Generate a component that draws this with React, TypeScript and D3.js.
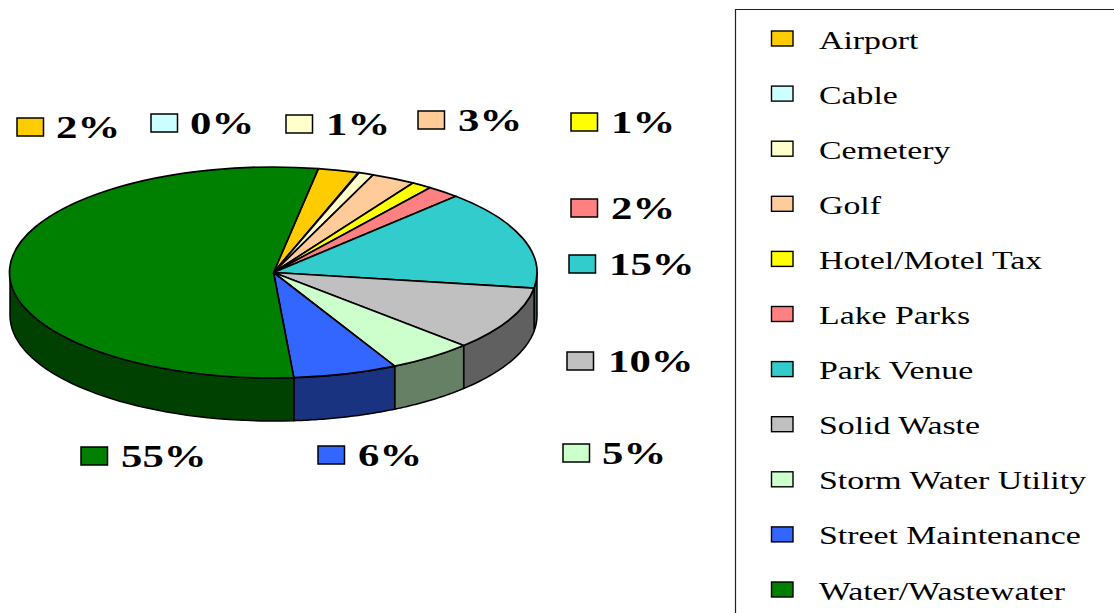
import React from "react";
import * as d3 from "d3";

const categories = ["Airport","Cable","Cemetery","Golf","Hotel/Motel Tax","Lake Parks","Park Venue","Solid Waste","Storm Water Utility","Street Maintenance","Water/Wastewater"];
const values = [2.5,0.05,0.9,2.7,1.25,2.05,15.2,9.8,5.22,6.38,53.95];
const percentLabels = ["2%","0%","1%","3%","1%","2%","15%","10%","5%","6%","55%"];
const colors = ["#ffcc00","#ccffff","#ffffcc","#ffcc99","#ffff00","#ff8080","#33cccc","#c0c0c0","#ccffcc","#3366ff","#008000"];
const sideColors = ["#806600","#668080","#808066","#80664d","#808000","#804040","#196666","#606060","#668066","#1a3380","#004000"];
// label anchor: swatch left, swatch top, text left
const labelX = [17,151,286,418,571,571,569,567,563,318,81];
const labelY = [118,114,115,111,113,199,255,352,444,446,447];
const textX = [56,190,326,458,611,611,609,608,602,358,121];

const W = 1114, H = 613;
const cx = 273.5, cy = 272.5, rx = 263.5, ry = 105.5, depth = 43;
const LEGEND_STEP = 55.1;
const START = 9.8 * Math.PI / 180;

const pie = d3.pie<number>().sort(null).startAngle(START).endAngle(START + 2 * Math.PI);
const arcs = pie(values);
const arcGen = d3.arc<d3.PieArcDatum<number>>().innerRadius(0).outerRadius(1);
const pt = (a: number, dy = 0): [number, number] => [cx + rx * Math.sin(a), cy - ry * Math.cos(a) + dy];

function sidePath(a0: number, a1: number): string | null {
  // only the front half of the rim (90deg..270deg) is visible
  const lo = Math.max(a0, Math.PI / 2), hi = Math.min(a1, 1.5 * Math.PI);
  if (hi <= lo) return null;
  const angles = d3.range(0, 41).map(i => lo + (hi - lo) * i / 40);
  const top = angles.map(a => pt(a));
  const bot = angles.map(a => pt(a, depth)).reverse();
  return d3.line()([...top, ...bot]) + "Z";
}

const serif = "'Liberation Serif','Times New Roman',serif";

function Stretched({ x, y, size, sx, bold, children }: any) {
  return (
    <text transform={`translate(${x},${y}) scale(${sx},1)`} fontFamily={serif} fontSize={size}
      fontWeight={bold ? 700 : 400} fill="#000">{children}</text>
  );
}

export default function App() {
  return (
    <svg width={W} height={H} viewBox={`0 0 ${W} ${H}`}
      style={{ position: "absolute", left: 0, top: 0, background: "#fff", display: "block" }}>
      {arcs.map((d, i) => {
        const p = sidePath(d.startAngle, d.endAngle);
        return p ? <path key={i} d={p} fill={sideColors[i]} stroke="#000" strokeWidth={1.5} strokeLinejoin="round" /> : null;
      })}
      {arcs.map((d, i) => (
        <path key={i} d={arcGen(d) as string} transform={`translate(${cx},${cy}) scale(${rx},${ry})`}
          fill={colors[i]} stroke="#000" strokeWidth={1.7} strokeLinejoin="round" vectorEffect="non-scaling-stroke" />
      ))}
      {categories.map((c, i) => (
        <g key={c}>
          <rect x={labelX[i]} y={labelY[i]} width={26.5} height={18} fill={colors[i]} stroke="#000" strokeWidth={1.5} />
          <Stretched x={textX[i]} y={labelY[i] + 20} size={31} sx={1.38} bold>{percentLabels[i]}</Stretched>
        </g>
      ))}
      <path d={`M${W},9.5H735.5V${H}`} fill="none" stroke="#222" strokeWidth={1.2} />
      {categories.map((c, i) => {
        const y = 31 + i * LEGEND_STEP;
        return (
          <g key={c}>
            <rect x={771.5} y={y} width={21.5} height={15} fill={colors[i]} stroke="#000" strokeWidth={1.4} />
            <Stretched x={819} y={y + 17.5} size={24.5} sx={1.38}>{c}</Stretched>
          </g>
        );
      })}
    </svg>
  );
}
